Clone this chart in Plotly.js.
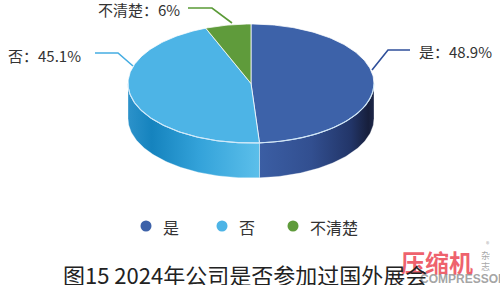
<!DOCTYPE html>
<html>
<head>
<meta charset="utf-8">
<script src="https://cdn.plot.ly/plotly-3.0.1.min.js"></script>
<style>
  html, body { margin: 0; padding: 0; background: #ffffff; }
  #chart { width: 500px; height: 285px; }
</style>
</head>
<body>
<div id="chart"></div>
<script>
// ---- data ----
const categories = ['是', '否', '不清楚'];
const shares = [48.9, 45.1, 6];
const chartTitle = '图15 2024年公司是否参加过国外展会';

// ---- styles ----
const topColors = ['#3d62a9', '#4db4e6', '#5f9b3b'];
const sideScales = [
  [[0, '#3b5ea4'], [0.45, '#324f90'], [0.8, '#223568'], [0.95, '#171f3c'], [1, '#1d2748']],
  [[0, '#2c92ca'], [0.18, '#1583be'], [0.55, '#34a3da'], [1, '#5cbfea']],
  [[0, '#4d8530'], [1, '#5f9b3b']]
];
const labelLineColors = ['#2f4f9a', '#45ade2', '#5a9a36'];
const FONT = '"Noto Sans CJK SC", "Noto Sans", sans-serif';

// pie geometry in pixel-like axis units (axes span the whole canvas)
const G = { cx: 251, cy: 83.5, rx: 123, ry: 59.5, depth: 35 };

// label placement: text anchor and leader polyline (label side -> slice edge)
const labelLayout = [
  { x: 417, y: 51, anchor: 'left',  leader: [[410, 50], [388, 50], [372, 70]] },
  { x: 83,  y: 55, anchor: 'right', leader: [[95, 53], [118, 53], [133, 66]] },
  { x: 182, y: 9,  anchor: 'right', leader: [[188, 8], [212, 8], [232, 23]] }
];
const legendLayout = { y: 226, dotX: [146, 222, 293], textGap: 15 };

function pt(theta, dy) {
  const r = theta * Math.PI / 180;
  return [G.cx + G.rx * Math.sin(r), G.cy - G.ry * Math.cos(r) + (dy || 0)];
}
function arc(a0, a1, dy) {
  const n = Math.max(2, Math.ceil(Math.abs(a1 - a0) / 1.0));
  const xs = [], ys = [];
  for (let i = 0; i <= n; i++) {
    const p = pt(a0 + (a1 - a0) * i / n, dy);
    xs.push(p[0]); ys.push(p[1]);
  }
  return [xs, ys];
}

const total = shares.reduce((a, b) => a + b, 0);
const slices = [];
let acc = 0;
shares.forEach((v, i) => {
  const a0 = acc / total * 360;
  acc += v;
  const a1 = acc / total * 360;
  slices.push({ a0, a1, i });
});

const traces = [];

// cylinder side: only the front half (90°..270°, clockwise from top) is visible
slices.forEach(s => {
  const a = Math.max(s.a0, 90), b = Math.min(s.a1, 270);
  if (b <= a) return;
  const top = arc(a, b, 0);
  const bot = arc(b, a, G.depth);
  traces.push({
    type: 'scatter', mode: 'lines',
    x: top[0].concat(bot[0]).concat([top[0][0]]),
    y: top[1].concat(bot[1]).concat([top[1][0]]),
    fill: 'toself',
    fillgradient: { type: 'horizontal', colorscale: sideScales[s.i] },
    line: { width: 0.6, color: 'rgba(255,255,255,0.55)' },
    hoverinfo: 'skip', showlegend: false
  });
});

// top faces
slices.forEach(s => {
  const t = arc(s.a0, s.a1, 0);
  traces.push({
    type: 'scatter', mode: 'lines',
    x: [G.cx].concat(t[0]).concat([G.cx]),
    y: [G.cy].concat(t[1]).concat([G.cy]),
    fill: 'toself', fillcolor: topColors[s.i],
    line: { width: 0.9, color: 'rgba(255,255,255,0.85)' },
    hoverinfo: 'skip', showlegend: false
  });
});

// light rim along the front edge of the top face
const rim = arc(90, 270, 0);
traces.push({
  type: 'scatter', mode: 'lines', x: rim[0], y: rim[1],
  line: { width: 1.1, color: 'rgba(205,232,250,0.9)' },
  hoverinfo: 'skip', showlegend: false
});

// leader lines
categories.forEach((c, i) => {
  const L = labelLayout[i].leader;
  traces.push({
    type: 'scatter', mode: 'lines',
    x: L.map(p => p[0]), y: L.map(p => p[1]),
    line: { width: 1.6, color: labelLineColors[i] },
    hoverinfo: 'skip', showlegend: false
  });
});

// legend dots
traces.push({
  type: 'scatter', mode: 'markers',
  x: legendLayout.dotX, y: categories.map(() => legendLayout.y),
  marker: { size: 11, color: topColors },
  hoverinfo: 'skip', showlegend: false
});

const annotations = [];
categories.forEach((c, i) => {
  const L = labelLayout[i];
  annotations.push({
    x: L.x, y: L.y, xref: 'x', yref: 'y', showarrow: false,
    xanchor: L.anchor, yanchor: 'middle',
    text: c + '：' + shares[i] + '%',
    font: { family: FONT, size: 15, color: '#333333' }
  });
  annotations.push({
    x: legendLayout.dotX[i] + legendLayout.textGap, y: legendLayout.y + 1,
    xref: 'x', yref: 'y', showarrow: false, xanchor: 'left', yanchor: 'middle',
    text: c, font: { family: FONT, size: 16, color: '#333333' }
  });
});

// masthead mark in the lower right corner
annotations.push(
  { x: 437, y: 261, xref: 'x', yref: 'y', showarrow: false, xanchor: 'center', yanchor: 'middle',
    text: '<b>压缩机</b>', font: { family: FONT, size: 24, color: 'rgba(236,70,82,0.85)' } },
  { x: 485, y: 255, xref: 'x', yref: 'y', showarrow: false, xanchor: 'center', yanchor: 'middle',
    text: '杂', font: { family: FONT, size: 9, color: 'rgba(150,150,150,0.85)' } },
  { x: 485, y: 266, xref: 'x', yref: 'y', showarrow: false, xanchor: 'center', yanchor: 'middle',
    text: '志', font: { family: FONT, size: 9, color: 'rgba(150,150,150,0.85)' } },
  { x: 488, y: 244, xref: 'x', yref: 'y', showarrow: false, xanchor: 'center', yanchor: 'middle',
    text: '®', font: { family: FONT, size: 7, color: 'rgba(150,150,150,0.85)' } },
  { x: 418, y: 279, xref: 'x', yref: 'y', showarrow: false, xanchor: 'left', yanchor: 'middle',
    text: '<b>COMPRESSOR</b>', font: { family: '"Liberation Sans", Arial, sans-serif', size: 12, color: 'rgba(140,140,140,0.8)' } }
);

// caption
annotations.push({
  x: 245, y: 274, xref: 'x', yref: 'y', showarrow: false, xanchor: 'center', yanchor: 'middle',
  text: chartTitle, font: { family: FONT, size: 22, color: '#222222' }
});

const layout = {
  width: 500, height: 285,
  margin: { l: 0, r: 0, t: 0, b: 0, pad: 0 },
  paper_bgcolor: '#ffffff', plot_bgcolor: '#ffffff',
  xaxis: { range: [0, 500], visible: false, fixedrange: true },
  yaxis: { range: [285, 0], visible: false, fixedrange: true },
  showlegend: false,
  annotations: annotations
};

Plotly.newPlot('chart', traces, layout, { staticPlot: true, displayModeBar: false });
</script>
</body>
</html>
